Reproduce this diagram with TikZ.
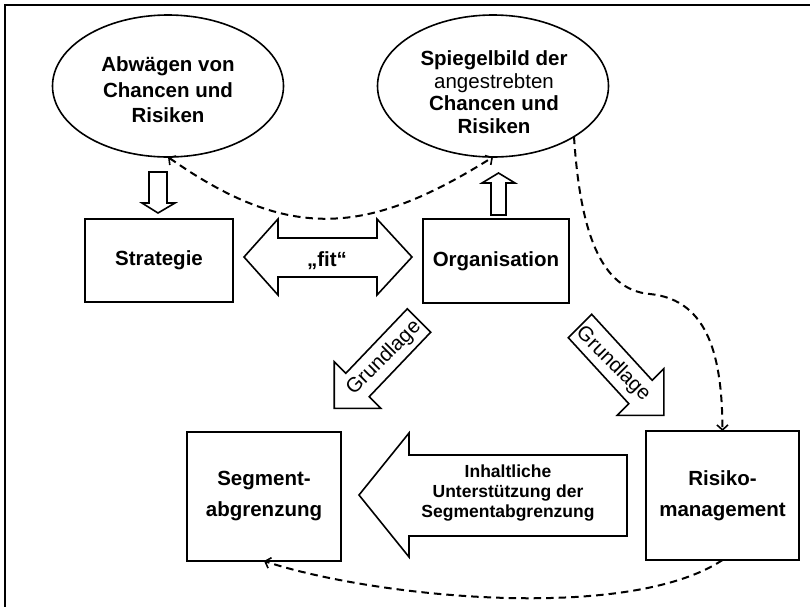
\documentclass[tikz,border=0pt]{standalone}
\usepackage{fontspec}
\setmainfont{Liberation Sans}
\usetikzlibrary{shapes.geometric,arrows.meta}

\tikzset{
  every node/.style={inner sep=0pt, outer sep=0pt},
  frameline/.style={line width=1.5pt},
  boxnode/.style={draw, line width=1.6pt, rectangle, align=center,
    font=\fontsize{20.5}{24}\selectfont\bfseries},
  ellnode/.style={draw, line width=1.6pt, ellipse,
    minimum width=231pt, minimum height=142pt},
  elltext/.style={align=center},
  fatarrow/.style={draw, line width=1.6pt, line join=miter, fill=white},
  arrowtext/.style={font=\fontsize{20.5}{24}\selectfont},
  dashcurve/.style={line width=2pt, dash pattern=on 7.5pt off 5pt},
  vtip/.tip={Straight Barb[length=5pt,width=11pt,line width=1.6pt]}
}

\begin{document}
\begin{tikzpicture}[x=1pt, y=-1pt]
  \useasboundingbox (0,0) rectangle (810,606);

  % frame (left and top edges)
  \draw[frameline] (5,610) -- (5,5) -- (815,5);

  % ellipses and their texts
  \node[ellnode] (e1) at (168,86) {};
  \node[elltext, font=\fontsize{20.5}{25.5}\selectfont\bfseries] (e1t) at (168,90)
    {Abwägen von\\Chancen und\\Risiken};
  \node[ellnode] (e2) at (493,86) {};
  \node[elltext, font=\fontsize{20.5}{22.5}\selectfont] (e2t) at (494,92)
    {\textbf{Spiegelbild der}\\angestrebten\\\textbf{Chancen und}\\\textbf{Risiken}};

  % boxes
  \node[boxnode, minimum width=148pt, minimum height=83pt] (st) at (159,260.5) {Strategie};
  \node[boxnode, minimum width=146pt, minimum height=84pt] (org) at (496,261) {Organisation};
  \node[boxnode, minimum width=154pt, minimum height=129pt,
        font=\fontsize{20.5}{31}\selectfont\bfseries] (sg) at (264,496.5) {Segment-\\abgrenzung};
  \node[boxnode, minimum width=153pt, minimum height=129pt,
        font=\fontsize{20.5}{31}\selectfont\bfseries] (rm) at (722.5,495.5) {Risiko-\\management};

  % hollow block arrows
  \draw[fatarrow] (149,172) -- (167,172) -- (167,203) -- (175,203) -- (158,213)
    -- (142,203) -- (149,203) -- cycle;
  \draw[fatarrow] (491,215) -- (491,183) -- (482,183) -- (498.5,173) -- (515,183)
    -- (506,183) -- (506,215) -- cycle;

  % "fit" double arrow
  \draw[fatarrow] (244,257) -- (278,219) -- (278,238) -- (377,238) -- (377,219)
    -- (412,257) -- (377,295) -- (377,277) -- (278,277) -- (278,295) -- cycle;
  \node[font=\fontsize{20.5}{24}\selectfont\bfseries] (fit) at (327,261) {„fit“};

  % left Grundlage arrow
  \draw[fatarrow] (407.3,308.8) -- (430.7,332.2) -- (369.2,396.7) -- (380.8,408.3)
    -- (334.2,408.3) -- (334.2,361.7) -- (345.8,373.3) -- cycle;
  \node[arrowtext, rotate=45] (g1) at (384,358) {Grundlage};

  % right Grundlage arrow
  \draw[fatarrow] (568.3,337.7) -- (591.7,314.3) -- (652.2,380.3) -- (663.8,368.7)
    -- (663.8,415.3) -- (617.2,415.3) -- (628.8,403.7) -- cycle;
  \node[arrowtext, rotate=-45] (g2) at (613,364) {Grundlage};

  % support arrow towards the segment box
  \draw[fatarrow] (359,495) -- (409,433) -- (409,455) -- (627,455) -- (627,536)
    -- (409,536) -- (409,557) -- cycle;
  \node[align=center, font=\fontsize{17.5}{20}\selectfont\bfseries] (sup)
    at (508,493) {Inhaltliche\\Unterstützung der\\Segmentabgrenzung};

  % dashed links
  \draw[dashcurve, vtip-vtip] (e1.south) .. controls (289,242) and (367,236) .. (e2.south);
  \coordinate (bend) at (650,294);
  \draw[dashcurve, -vtip] (e2.-32) .. controls (580,230) and (600,290) .. (bend)
    .. controls (710,300) and (722,360) .. (rm.north);
  \draw[dashcurve, -vtip] (rm.south) .. controls (627,623) and (373,597) .. (sg.south);
\end{tikzpicture}
\end{document}
